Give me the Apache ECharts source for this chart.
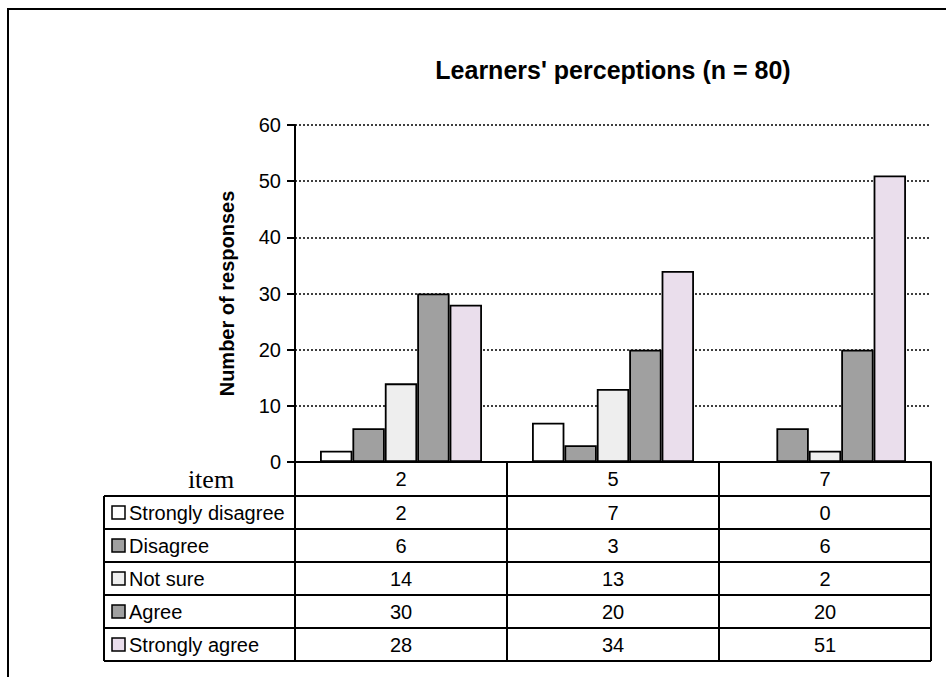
<!DOCTYPE html>
<html>
<head>
<meta charset="utf-8">
<title>Learners' perceptions</title>
<script src="https://cdn.jsdelivr.net/npm/echarts@6/dist/echarts.min.js"></script>
<style>
html,body{margin:0;padding:0;background:#fff;}
#main{width:946px;height:677px;}
</style>
</head>
<body>
<div id="main"></div>
<script>
// items (categories)
var items = ['2', '5', '7'];
// series names and values
var seriesNames = ['Strongly disagree', 'Disagree', 'Not sure', 'Agree', 'Strongly agree'];
var stronglyDisagree = [2, 7, 0];
var disagree = [6, 3, 6];
var notSure = [14, 13, 2];
var agree = [30, 20, 20];
var stronglyAgree = [28, 34, 51];
var seriesColors = ['#FFFFFF', '#A0A0A0', '#EEEEEE', '#A0A0A0', '#EADEEC'];
var yMin = 0, yMax = 60, yStep = 10;

var allValues = [stronglyDisagree, disagree, notSure, agree, stronglyAgree];
var font = 'Liberation Sans, Arial, sans-serif';

var chart = echarts.init(document.getElementById('main'), null, {renderer: 'svg'});

var series = seriesNames.map(function (name, i) {
	return {
		name: name,
		type: 'bar',
		barGap: '0%',
		barCategoryGap: '23.6%',
		itemStyle: {
			color: seriesColors[i],
			borderColor: '#000',
			borderWidth: 1.8
		},
		data: allValues[i]
	};
});

chart.setOption({
	animation: false,
	grid: {left: 295, right: 15, top: 125, bottom: 215},
	xAxis: {
		type: 'category',
		data: items,
		axisLine: {lineStyle: {color: '#000', width: 2}},
		axisTick: {show: false},
		axisLabel: {show: false},
		z: 5
	},
	yAxis: {
		type: 'value',
		min: yMin,
		max: yMax,
		interval: yStep,
		name: 'Number of responses',
		nameLocation: 'middle',
		nameRotate: 90,
		nameGap: 58,
		nameTextStyle: {fontFamily: font, fontSize: 20, fontWeight: 'bold', color: '#000'},
		axisLine: {show: true, lineStyle: {color: '#000', width: 2}},
		axisTick: {show: true, length: 8, lineStyle: {color: '#000', width: 2}},
		axisLabel: {fontFamily: font, fontSize: 20, color: '#000', margin: 14},
		splitLine: {lineStyle: {color: '#000', width: 1.5, type: [2, 2]}}
	},
	series: series
});

// table below the plot, lined up with the category bands
var plotLeft = 295, plotRight = 931, plotBottom = 462;
var tableLeft = 104, headerBottom = 496, rowH = 33;
var tableBottom = headerBottom + rowH * seriesNames.length;
var centers = items.map(function (c) { return chart.convertToPixel({xAxisIndex: 0}, c); });
var band = centers.length > 1 ? centers[1] - centers[0] : plotRight - plotLeft;

var g = [];
function line(x1, y1, x2, y2) {
	g.push({type: 'line', shape: {x1: x1, y1: y1, x2: x2, y2: y2}, style: {stroke: '#000', lineWidth: 2}, silent: true});
}
function text(str, x, y, align, size, weight, family) {
	g.push({type: 'text', x: x, y: y, style: {text: str, fill: '#000', font: (weight || 'normal') + ' ' + size + 'px ' + (family || font), textAlign: align, textVerticalAlign: 'middle'}, silent: true});
}

// outer frame
g.push({type: 'polyline', shape: {points: [[8, 677], [8, 9], [946, 9]]}, style: {stroke: '#000', lineWidth: 2, fill: null}, silent: true});
// title
text("Learners' perceptions (n = 80)", (plotLeft + plotRight) / 2, 70, 'center', 25, 'bold');

// horizontal rules
for (var k = 0; k <= seriesNames.length; k++) {
	line(tableLeft, headerBottom + rowH * k, plotRight, headerBottom + rowH * k);
}
// vertical rules
line(tableLeft, headerBottom, tableLeft, tableBottom);
line(plotLeft, plotBottom, plotLeft, tableBottom);
centers.forEach(function (cx) {
	line(cx + band / 2, plotBottom, cx + band / 2, tableBottom);
});

// header
text('item', 211, 479, 'center', 26, 'normal', 'Liberation Serif, Times New Roman, serif');
items.forEach(function (c, j) {
	text(c, centers[j], 479, 'center', 20);
});

// rows
seriesNames.forEach(function (name, i) {
	var cy = headerBottom + rowH * i + rowH / 2;
	g.push({type: 'rect', shape: {x: 112, y: cy - 6.5, width: 13, height: 13}, style: {fill: seriesColors[i], stroke: '#000', lineWidth: 1.5}, silent: true});
	text(name, 129, cy, 'left', 20);
	allValues[i].forEach(function (v, j) {
		text(String(v), centers[j], cy, 'center', 20);
	});
});

chart.setOption({graphic: g});
</script>
</body>
</html>
